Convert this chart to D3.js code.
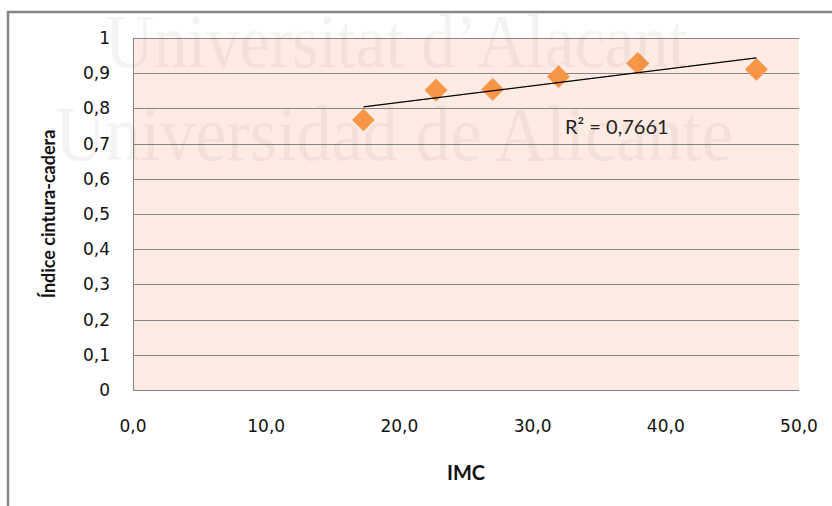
<!DOCTYPE html>
<html>
<head>
<meta charset="utf-8">
<script src="https://cdn.jsdelivr.net/npm/d3@7"></script>
<style>
  body { margin: 0; background: #fff; }
  svg { display: block; }
</style>
</head>
<body>
<svg id="chart" width="832" height="506"></svg>
<script>
// IMC vs indice cintura-cadera
var imcValues = [17.3, 22.75, 27.0, 31.95, 37.9, 46.8];
var iccValues = [0.767, 0.852, 0.854, 0.890, 0.928, 0.911];
var yTicks = [0, 0.1, 0.2, 0.3, 0.4, 0.5, 0.6, 0.7, 0.8, 0.9, 1];
var xTicks = [0, 10, 20, 30, 40, 50];
var r2Label = "R\u00b2 = 0,7661";
var watermark = ["Universitat d\u2019Alacant", "Universidad de Alicante"];

var svg = d3.select('#chart'),
    WIDTH = 832,
    HEIGHT = 506,
    MARGINS = {top: 38, right: 33, bottom: 116, left: 133};

var xRange = d3.scaleLinear()
    .domain([0, 50])
    .range([MARGINS.left, WIDTH - MARGINS.right]);
var yRange = d3.scaleLinear()
    .domain([0, 1])
    .range([HEIGHT - MARGINS.bottom, MARGINS.top]);

var grey = '#868686';

// outer chart frame (cut off at right/bottom)
svg.append('rect')
    .attr('x', 8).attr('y', 12)
    .attr('width', 900).attr('height', 600)
    .attr('fill', 'none')
    .attr('stroke', grey)
    .attr('stroke-width', 2.5);

// plot area
svg.append('rect')
    .attr('x', xRange(0)).attr('y', yRange(1))
    .attr('width', xRange(50) - xRange(0))
    .attr('height', yRange(0) - yRange(1))
    .attr('fill', '#fdebe4');

svg.append('g')
    .selectAll('line')
    .data(yTicks)
    .enter().append('line')
    .attr('x1', xRange(0)).attr('x2', xRange(50))
    .attr('y1', function(d){ return Math.round(yRange(d)) + 0.5; })
    .attr('y2', function(d){ return Math.round(yRange(d)) + 0.5; })
    .attr('stroke', grey)
    .attr('stroke-width', 1);

svg.append('line')
    .attr('x1', Math.round(xRange(0)) + 0.5).attr('x2', Math.round(xRange(0)) + 0.5)
    .attr('y1', yRange(1)).attr('y2', yRange(0))
    .attr('stroke', grey);

// tick labels
var tickFont = '"DejaVu Sans", Verdana, sans-serif';
var fmt = function(d, n){ return d.toFixed(n).replace('.', ','); };

svg.append('g')
    .selectAll('text')
    .data(yTicks)
    .enter().append('text')
    .attr('x', 110)
    .attr('y', function(d){ return yRange(d) + 6; })
    .attr('text-anchor', 'end')
    .attr('font-family', tickFont)
    .attr('font-size', 17)
    .attr('fill', '#111')
    .text(function(d){ return (d === 0 || d === 1) ? String(d) : fmt(d, 1); });

svg.append('g')
    .selectAll('text')
    .data(xTicks)
    .enter().append('text')
    .attr('x', function(d){ return xRange(d); })
    .attr('y', 432)
    .attr('text-anchor', 'middle')
    .attr('font-family', tickFont)
    .attr('font-size', 17)
    .attr('fill', '#111')
    .text(function(d){ return fmt(d, 1); });

// axis titles
var titleFont = 'Lato, "Open Sans", sans-serif';
svg.append('text')
    .attr('x', (xRange(0) + xRange(50)) / 2)
    .attr('y', 480)
    .attr('text-anchor', 'middle')
    .attr('font-family', titleFont)
    .attr('font-weight', 'bold')
    .attr('font-size', 20)
    .attr('fill', '#111')
    .text('IMC');

svg.append('text')
    .attr('transform', 'translate(55,' + ((yRange(0) + yRange(1)) / 2) + ') rotate(-90)')
    .attr('text-anchor', 'middle')
    .attr('font-family', titleFont)
    .attr('font-weight', 'bold')
    .attr('font-size', 18)
    .attr('fill', '#111')
    .text('\u00cdndice cintura-cadera');

// linear trend line from the points
var pts = imcValues.map(function(x, i){ return {x: x, y: iccValues[i]}; });
var mx = d3.mean(imcValues), my = d3.mean(iccValues);
var sxy = d3.sum(pts, function(p){ return (p.x - mx) * (p.y - my); });
var sxx = d3.sum(pts, function(p){ return (p.x - mx) * (p.x - mx); });
var slope = sxy / sxx, icpt = my - slope * mx;
var xExt = d3.extent(imcValues);
var lineData = xExt.map(function(x){ return {x: x, y: icpt + slope * x}; });

var lineFunc = d3.line()
    .x(function(d){ return xRange(d.x); })
    .y(function(d){ return yRange(d.y); });

// markers (rotated squares)
var diamond = d3.symbol().type(d3.symbolSquare).size(230);
svg.append('g')
    .selectAll('path')
    .data(pts)
    .enter().append('path')
    .attr('d', diamond)
    .attr('transform', function(d){ return 'translate(' + xRange(d.x) + ',' + yRange(d.y) + ') rotate(45)'; })
    .attr('fill', '#f79646')
    .attr('stroke', '#f79646')
    .attr('stroke-width', 1)
    .attr('stroke-linejoin', 'round');

svg.append('path')
    .attr('d', lineFunc(lineData))
    .attr('stroke', '#000')
    .attr('stroke-width', 1.2)
    .attr('fill', 'none');

svg.append('text')
    .attr('x', 565)
    .attr('y', 134)
    .attr('font-family', titleFont)
    .attr('font-size', 20)
    .attr('fill', '#222')
    .text(r2Label);

// faint watermark over the chart
var wm = svg.append('g')
    .attr('font-family', '"Liberation Serif", "DejaVu Serif", serif')
    .attr('fill', 'rgb(110,80,70)')
    .attr('fill-opacity', 0.07);
wm.append('text')
    .attr('x', 105).attr('y', 67)
    .attr('font-size', 76)
    .attr('textLength', 582)
    .attr('lengthAdjust', 'spacingAndGlyphs')
    .text(watermark[0]);
wm.append('text')
    .attr('x', 55).attr('y', 160)
    .attr('font-size', 78)
    .attr('textLength', 678)
    .attr('lengthAdjust', 'spacingAndGlyphs')
    .text(watermark[1]);
</script>
</body>
</html>
